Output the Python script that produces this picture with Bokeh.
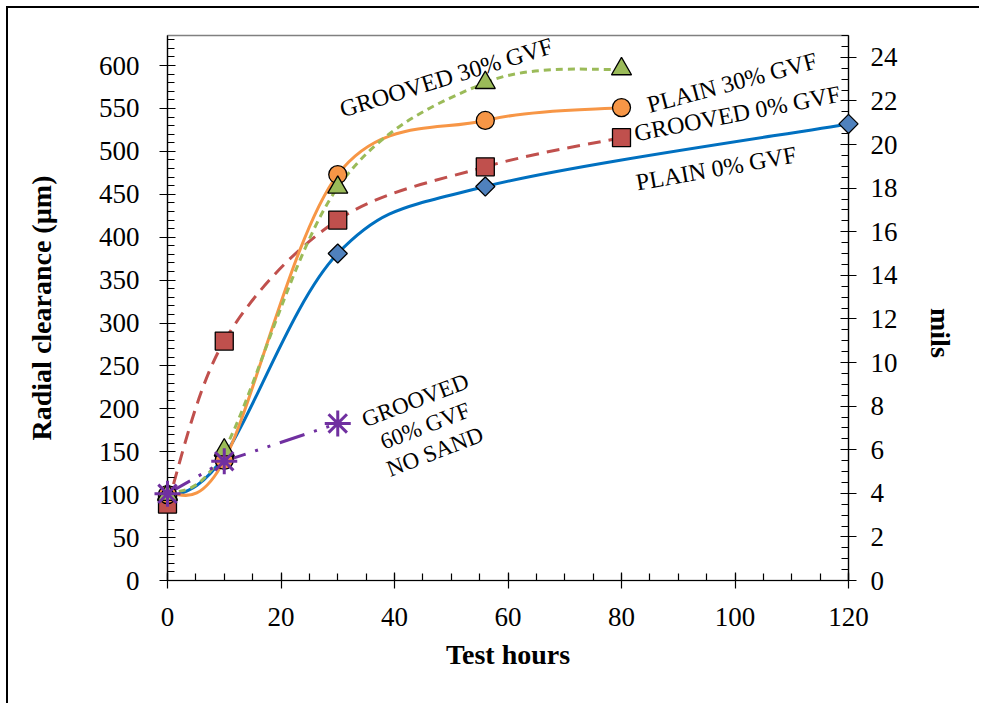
import math
from bokeh.plotting import figure
from bokeh.models import Range1d, LinearAxis, SingleIntervalTicker
from bokeh.embed import file_html
from bokeh.resources import INLINE
from bokeh.core.properties import value

# ---- data ----
hours_plain0 = [0, 10, 30, 56, 120]
clear_plain0 = [95, 145, 381, 459, 532]

hours_groove0 = [0, 10, 30, 56, 80]
clear_groove0 = [89, 279, 420, 482, 516]

hours_plain30 = [0, 10, 30, 56, 80]
clear_plain30 = [100, 140, 473, 536, 551]

hours_groove30 = [0, 10, 30, 56, 80]
clear_groove30 = [100, 152, 458, 580, 596]

hours_groove60 = [0, 10, 30]
clear_groove60 = [101, 139, 183]

x_ticks_interval = 20
y_ticks_interval = 50
mils_ticks_interval = 2

FONT = "Liberation Serif"


def smooth(xs, ys):
    """Bezier control points for an Excel-like smoothed line."""
    n = len(xs)
    out = dict(x0=[], y0=[], x1=[], y1=[], cx0=[], cy0=[], cx1=[], cy1=[])
    for i in range(n - 1):
        a = i - 1 if i > 0 else i
        b = i + 2 if i + 2 < n else i + 1
        out["x0"].append(xs[i]); out["y0"].append(ys[i])
        out["x1"].append(xs[i + 1]); out["y1"].append(ys[i + 1])
        out["cx0"].append(xs[i] + (xs[i + 1] - xs[a]) / 6.0)
        out["cy0"].append(ys[i] + (ys[i + 1] - ys[a]) / 6.0)
        out["cx1"].append(xs[i + 1] - (xs[b] - xs[i]) / 6.0)
        out["cy1"].append(ys[i + 1] - (ys[b] - ys[i]) / 6.0)
    return out


p = figure(width=973, height=697,
           x_range=Range1d(0, 120), y_range=Range1d(0, 635),
           output_backend="svg", toolbar_location=None,
           min_border_left=159, min_border_right=133,
           min_border_top=27, min_border_bottom=125)
p.extra_y_ranges = {"mils": Range1d(0, 25)}
p.xgrid.visible = False
p.ygrid.visible = False
p.outline_line_color = "#808080"
p.outline_line_width = 1.5
p.background_fill_color = "white"
p.border_fill_color = "white"
p.styles = {"border-left": "2px solid black", "border-top": "2px solid black",
            "margin-left": "6px", "margin-top": "6px"}

right = LinearAxis(y_range_name="mils")
p.add_layout(right, "right")

p.xaxis.ticker = SingleIntervalTicker(interval=x_ticks_interval, num_minor_ticks=4)
p.yaxis[0].ticker = SingleIntervalTicker(interval=y_ticks_interval, num_minor_ticks=5)
right.ticker = SingleIntervalTicker(interval=mils_ticks_interval, num_minor_ticks=4)

p.xaxis.axis_label = "Test hours"
p.yaxis[0].axis_label = "Radial clearance (µm)"
right.axis_label = "mils"
try:
    right.axis_label_orientation = -math.pi / 2
except Exception:
    pass

for ax in [p.xaxis[0], p.yaxis[0], right]:
    ax.axis_line_color = "black"
    ax.axis_line_width = 1.2
    ax.major_tick_line_color = "black"
    ax.minor_tick_line_color = "black"
    ax.major_tick_line_width = 1.2
    ax.minor_tick_line_width = 1.2
    ax.major_tick_in = 8
    ax.major_tick_out = 8
    ax.minor_tick_in = 7
    ax.minor_tick_out = 0
    ax.major_label_text_font = FONT
    ax.major_label_text_font_size = "27px"
    ax.major_label_text_color = "black"
    ax.axis_label_text_font = FONT
    ax.axis_label_text_font_style = "bold"
    ax.axis_label_text_font_size = "28px"
    ax.axis_label_text_color = "black"

p.xaxis.major_label_standoff = 19
p.xaxis.axis_label_standoff = 10
p.yaxis[0].major_label_standoff = 20
p.yaxis[0].axis_label_standoff = 39
right.major_label_standoff = 14
right.axis_label_standoff = 40

BLUE_L, BLUE_M = "#0070C0", "#4F81BD"
RED = "#C0504D"
ORANGE = "#F79646"
GREEN = "#9BBB59"
PURPLE = "#7030A0"

# PLAIN 0% GVF
p.bezier(source=smooth(hours_plain0, clear_plain0), x0="x0", y0="y0", x1="x1", y1="y1",
         cx0="cx0", cy0="cy0", cx1="cx1", cy1="cy1", line_color=BLUE_L, line_width=3)
p.scatter(hours_plain0, clear_plain0, marker="square", angle=math.pi / 4, size=13.5,
          fill_color=BLUE_M, line_color="black", line_width=1.3, level="overlay")

# GROOVED 0% GVF
p.bezier(source=smooth(hours_groove0, clear_groove0), x0="x0", y0="y0", x1="x1", y1="y1",
         cx0="cx0", cy0="cy0", cx1="cx1", cy1="cy1", line_color=RED, line_width=3,
         line_dash="13 8")
p.scatter(hours_groove0, clear_groove0, marker="square", size=18,
          fill_color=RED, line_color="black", line_width=1.3, level="overlay")

# PLAIN 30% GVF
p.bezier(source=smooth(hours_plain30, clear_plain30), x0="x0", y0="y0", x1="x1", y1="y1",
         cx0="cx0", cy0="cy0", cx1="cx1", cy1="cy1", line_color=ORANGE, line_width=3)
p.scatter(hours_plain30, clear_plain30, marker="circle", size=18,
          fill_color=ORANGE, line_color="black", line_width=1.3, level="overlay")

# GROOVED 30% GVF
p.bezier(source=smooth(hours_groove30, clear_groove30), x0="x0", y0="y0", x1="x1", y1="y1",
         cx0="cx0", cy0="cy0", cx1="cx1", cy1="cy1", line_color=GREEN, line_width=3,
         line_dash="7 5")
p.scatter(hours_groove30, clear_groove30, marker="triangle", size=20,
          fill_color=GREEN, line_color="black", line_width=1.3, level="overlay")

# GROOVED 60% GVF NO SAND
p.line(hours_groove60, clear_groove60, line_color=PURPLE, line_width=3,
       line_dash="26 10 3 10 3 10")
p.scatter(hours_groove60, clear_groove60, marker="asterisk", size=26,
          line_color=PURPLE, line_width=3, level="overlay")

# in-chart series labels
labels = [
    ("GROOVED 30% GVF", 49.1, 586, 17, "24px"),
    ("PLAIN 30% GVF", 99.5, 580, 15, "24px"),
    ("GROOVED 0% GVF", 100.4, 544, 11, "24px"),
    ("PLAIN 0% GVF", 96.7, 480, 10, "24px"),
    ("GROOVED\n60% GVF\nNO SAND", 45.4, 180, 21, "23px"),
]
for txt, lx, ly, ang, fs in labels:
    p.text(x=[lx], y=[ly], text=[txt], angle=math.radians(ang),
           text_align="center", text_baseline="middle",
           text_font=value(FONT), text_font_size=fs, text_color="black",
           text_line_height=1.1)

open("out.html", "w").write(file_html(p, INLINE))
